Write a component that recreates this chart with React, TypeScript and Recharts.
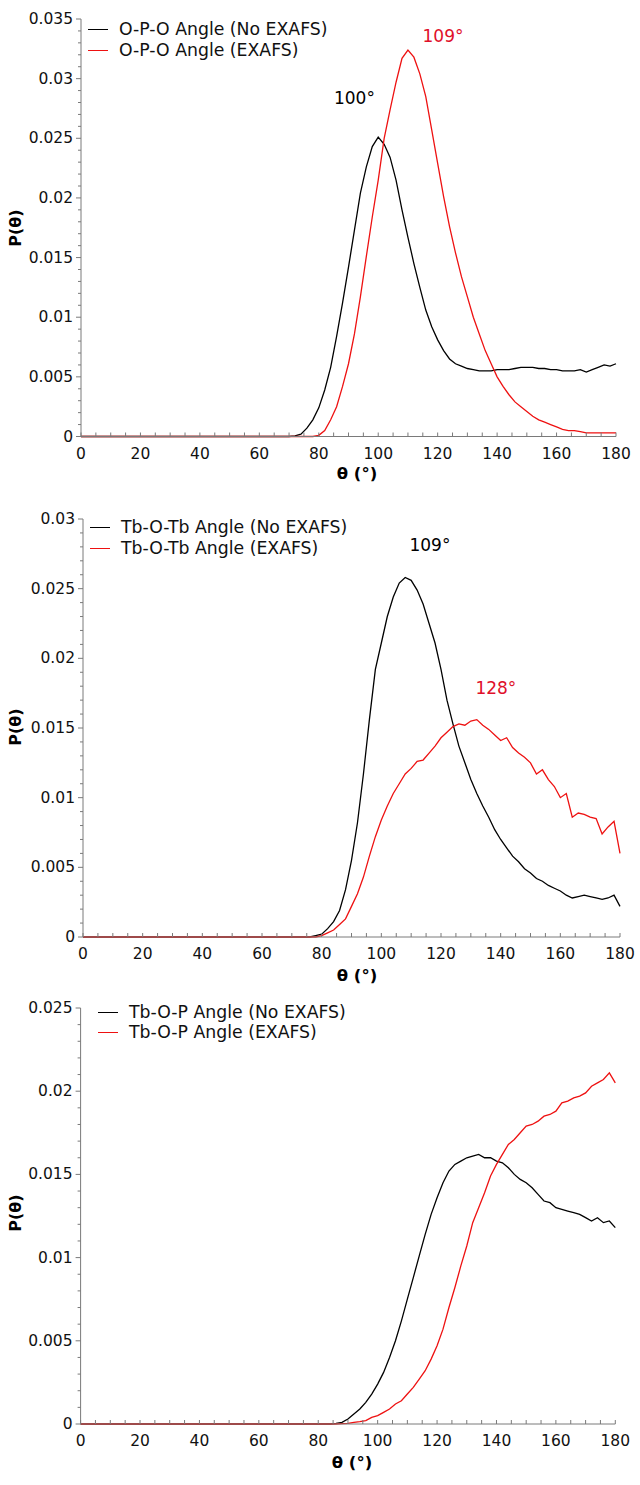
import React from "react";
import { LineChart, Line, XAxis, YAxis, ReferenceDot } from "recharts";

// angle grid in degrees
const angles = [
  0, 2, 4, 6, 8, 10, 12, 14, 16, 18, 20, 22, 24, 26, 28, 30, 32, 34, 36, 38,
  40, 42, 44, 46, 48, 50, 52, 54, 56, 58, 60, 62, 64, 66, 68, 70, 72, 74, 76, 78,
  80, 82, 84, 86, 88, 90, 92, 94, 96, 98, 100, 102, 104, 106, 108, 110, 112, 114, 116, 118,
  120, 122, 124, 126, 128, 130, 132, 134, 136, 138, 140, 142, 144, 146, 148, 150, 152, 154, 156, 158,
  160, 162, 164, 166, 168, 170, 172, 174, 176, 178, 180,
];

// O-P-O
const opoNoExafs = [
  0, 0, 0, 0, 0, 0, 0, 0, 0, 0, 0, 0, 0, 0, 0, 0, 0, 0, 0, 0,
  0, 0, 0, 0, 0, 0, 0, 0, 0, 0, 0, 0, 0, 0, 0, 0, 0.00005, 0.0002, 0.0007, 0.0014,
  0.0024, 0.0039, 0.0058, 0.0084, 0.0112, 0.0142, 0.0173, 0.0204, 0.0226, 0.0243, 0.0251, 0.0245, 0.0234, 0.0215, 0.019, 0.0167, 0.0145, 0.0125, 0.0106, 0.0092,
  0.0081, 0.0072, 0.0065, 0.0061, 0.0059, 0.0057, 0.0056, 0.0055, 0.0055, 0.0055, 0.0056, 0.0056, 0.0056, 0.0057, 0.0058, 0.0058, 0.0058, 0.0057, 0.0057, 0.0056,
  0.0056, 0.0055, 0.0055, 0.0055, 0.0056, 0.0054, 0.0056, 0.0058, 0.006, 0.0059, 0.0061,
];
const opoExafs = [
  0, 0, 0, 0, 0, 0, 0, 0, 0, 0, 0, 0, 0, 0, 0, 0, 0, 0, 0, 0,
  0, 0, 0, 0, 0, 0, 0, 0, 0, 0, 0, 0, 0, 0, 0, 0, 0, 0, 0, 0,
  0.0001, 0.0005, 0.0014, 0.0025, 0.0042, 0.0061, 0.0086, 0.0117, 0.0151, 0.0184, 0.0215, 0.025, 0.0274, 0.0297, 0.0317, 0.0324, 0.0318, 0.0304, 0.0285, 0.0257,
  0.0229, 0.0201, 0.0176, 0.0154, 0.0134, 0.0117, 0.01, 0.0086, 0.0072, 0.0061, 0.005, 0.0042, 0.0035, 0.0029, 0.0025, 0.0021, 0.0017, 0.0014, 0.0012, 0.001,
  0.0008, 0.0006, 0.0005, 0.0005, 0.0004, 0.0003, 0.0003, 0.0003, 0.0003, 0.0003, 0.0003,
];

// Tb-O-Tb
const tbotbNoExafs = [
  0, 0, 0, 0, 0, 0, 0, 0, 0, 0, 0, 0, 0, 0, 0, 0, 0, 0, 0, 0,
  0, 0, 0, 0, 0, 0, 0, 0, 0, 0, 0, 0, 0, 0, 0, 0, 0, 0, 0, 0.0001,
  0.0002, 0.0006, 0.0011, 0.0019, 0.0034, 0.0055, 0.0082, 0.0117, 0.0156, 0.0192, 0.0211, 0.023, 0.0244, 0.0254, 0.0258, 0.0256, 0.0249, 0.0239, 0.0225, 0.0211,
  0.0192, 0.017, 0.0153, 0.0137, 0.0125, 0.0113, 0.0103, 0.0094, 0.0086, 0.0077, 0.007, 0.0064, 0.0058, 0.0054, 0.0049, 0.0046, 0.0042, 0.004, 0.0037, 0.0035,
  0.0033, 0.003, 0.0028, 0.0029, 0.003, 0.0029, 0.0028, 0.0027, 0.0028, 0.003, 0.0022,
];
const tbotbExafs = [
  0, 0, 0, 0, 0, 0, 0, 0, 0, 0, 0, 0, 0, 0, 0, 0, 0, 0, 0, 0,
  0, 0, 0, 0, 0, 0, 0, 0, 0, 0, 0, 0, 0, 0, 0, 0, 0, 0, 0, 0,
  0.0001, 0.0003, 0.0005, 0.0009, 0.0013, 0.0022, 0.0031, 0.0043, 0.0058, 0.0072, 0.0084, 0.0094, 0.0103, 0.011, 0.0117, 0.0121, 0.0126, 0.0127, 0.0132, 0.0137,
  0.0143, 0.0147, 0.0151, 0.0153, 0.0152, 0.0155, 0.0156, 0.0152, 0.0149, 0.0145, 0.0141, 0.0143, 0.0136, 0.0132, 0.0129, 0.0125, 0.0117, 0.012, 0.0113, 0.0108,
  0.01, 0.0103, 0.0086, 0.0089, 0.0088, 0.0086, 0.0085, 0.0074, 0.0079, 0.0083, 0.006,
];

// Tb-O-P
const tbopNoExafs = [
  0, 0, 0, 0, 0, 0, 0, 0, 0, 0, 0, 0, 0, 0, 0, 0, 0, 0, 0, 0,
  0, 0, 0, 0, 0, 0, 0, 0, 0, 0, 0, 0, 0, 0, 0, 0, 0, 0, 0, 0,
  0, 0, 0, 0.00004, 0.0001, 0.0003, 0.0006, 0.0009, 0.0013, 0.0018, 0.0024, 0.0031, 0.004, 0.005, 0.0062, 0.0075, 0.0088, 0.0101, 0.0114, 0.0126,
  0.0136, 0.0145, 0.0152, 0.0156, 0.0158, 0.016, 0.0161, 0.0162, 0.016, 0.016, 0.0158, 0.0157, 0.0154, 0.015, 0.0147, 0.0145, 0.0142, 0.0138, 0.0134, 0.0133,
  0.013, 0.0129, 0.0128, 0.0127, 0.0126, 0.0124, 0.0122, 0.0124, 0.0121, 0.0122, 0.0118,
];
const tbopExafs = [
  0, 0, 0, 0, 0, 0, 0, 0, 0, 0, 0, 0, 0, 0, 0, 0, 0, 0, 0, 0,
  0, 0, 0, 0, 0, 0, 0, 0, 0, 0, 0, 0, 0, 0, 0, 0, 0, 0, 0, 0,
  0, 0, 0, 0, 0.00002, 0.00004, 0.0001, 0.00014, 0.0002, 0.0004, 0.0005, 0.0007, 0.0009, 0.0012, 0.0014, 0.0018, 0.0022, 0.0027, 0.0032, 0.0039,
  0.0047, 0.0057, 0.007, 0.0082, 0.0095, 0.0107, 0.0121, 0.013, 0.0139, 0.0149, 0.0156, 0.0162, 0.0168, 0.0171, 0.0175, 0.0179, 0.018, 0.0182, 0.0185, 0.0186,
  0.0188, 0.0193, 0.0194, 0.0196, 0.0197, 0.0199, 0.0203, 0.0205, 0.0207, 0.0211, 0.0205,
];

const xLabels = ["0", "20", "40", "60", "80", "100", "120", "140", "160", "180"];
const opoYLabels = ["0", "0.005", "0.01", "0.015", "0.02", "0.025", "0.03", "0.035"];
const tbotbYLabels = ["0", "0.005", "0.01", "0.015", "0.02", "0.025", "0.03"];
const tbopYLabels = ["0", "0.005", "0.01", "0.015", "0.02", "0.025"];

const BLACK = "#000000";
const RED = "#ee1111";
const NOTE_RED = "#e0102a";
const AXIS = "#7a7a7a";
const FONT = "'DejaVu Sans', Verdana, sans-serif";

const xTicks = Array.from({ length: 37 }, (_, i) => i * 5);

type Note = { angle: number; value: number; text: string; color: string };

type PanelProps = {
  top: number;
  plot: { left: number; right: number; top: number; bottom: number };
  yLabels: string[];
  names: string[];
  noExafs: number[];
  exafs: number[];
  notes: Note[];
  legend: { x: number; y: number; gap: number };
  yTitleY: number;
  xTitle: { x: number; y: number };
};

const H = 495;

function Panel({ top, plot, yLabels, names, noExafs, exafs, notes, legend, yTitleY, xTitle }: PanelProps) {
  const rows = angles.map((a, i) => ({ angle: a, noExafs: noExafs[i], exafs: exafs[i] }));
  const majors = yLabels.map((l) => parseFloat(l));
  const yMax = majors[majors.length - 1];
  const yTicks = Array.from({ length: Math.round(yMax / 0.001) + 1 }, (_, i) => i * 0.001);

  const XTick = (p: any) => {
    const v = p.payload.value;
    const lab = xLabels.find((l) => Number(l) === v);
    return (
      <g>
        <line x1={p.x} x2={p.x} y1={p.y} y2={p.y - 4} stroke={AXIS} />
        {lab !== undefined && (
          <text x={p.x} y={p.y + 22} textAnchor="middle" fontSize={15.5} fill="#111" fontFamily={FONT}>
            {lab}
          </text>
        )}
      </g>
    );
  };

  const YTick = (p: any) => {
    const v = p.payload.value;
    const idx = majors.findIndex((m) => Math.abs(m - v) < 1e-9);
    return (
      <g>
        <line x1={p.x} x2={p.x - (idx >= 0 ? 5 : 3)} y1={p.y} y2={p.y} stroke={AXIS} />
        {idx >= 0 && (
          <text x={p.x - 8} y={p.y + 5} textAnchor="end" fontSize={15.5} fill="#111" fontFamily={FONT}>
            {yLabels[idx]}
          </text>
        )}
      </g>
    );
  };

  return (
    <div style={{ position: "absolute", left: 0, top, width: 640, height: H }}>
      <LineChart
        width={640}
        height={H}
        data={rows}
        margin={{ top: plot.top - top, right: 640 - plot.right, bottom: 0, left: 0 }}
      >
        <XAxis
          dataKey="angle"
          type="number"
          domain={[0, 180]}
          ticks={xTicks}
          interval={0}
          height={H - (plot.bottom - top)}
          tickSize={0}
          tickMargin={0}
          tickLine={false}
          axisLine={{ stroke: AXIS }}
          tick={XTick}
        />
        <YAxis
          type="number"
          domain={[0, yMax]}
          ticks={yTicks}
          interval={0}
          width={plot.left}
          tickSize={0}
          tickMargin={0}
          tickLine={false}
          axisLine={{ stroke: AXIS }}
          tick={YTick}
        />
        <Line dataKey="noExafs" stroke={BLACK} strokeWidth={1.3} dot={false} isAnimationActive={false} />
        <Line dataKey="exafs" stroke={RED} strokeWidth={1.3} dot={false} isAnimationActive={false} />
        {notes.map((n) => (
          <ReferenceDot
            key={n.text + n.angle}
            x={n.angle}
            y={n.value}
            r={0}
            label={{
              content: (lp: any) => (
                <text
                  x={lp.viewBox.x + (lp.viewBox.width || 0) / 2}
                  y={lp.viewBox.y + (lp.viewBox.height || 0) / 2 + 6}
                  textAnchor="middle"
                  fontSize={17}
                  fill={n.color}
                  fontFamily={FONT}
                >
                  {n.text}
                </text>
              ),
            }}
          />
        ))}
      </LineChart>
      {names.map((name, i) => (
        <div
          key={name}
          style={{
            position: "absolute",
            left: legend.x,
            top: legend.y - top + i * legend.gap - 11,
            height: 22,
            display: "flex",
            alignItems: "center",
            fontFamily: FONT,
            fontSize: 17.3,
            color: "#111",
            whiteSpace: "nowrap",
          }}
        >
          <span style={{ display: "inline-block", width: 20, height: 0, borderTop: `1.3px solid ${i === 0 ? BLACK : RED}`, marginRight: 11 }} />
          {name}
        </div>
      ))}
      <div
        style={{
          position: "absolute",
          left: 15,
          top: yTitleY - top,
          transform: "translate(-50%, -50%) rotate(-90deg)",
          fontFamily: FONT,
          fontWeight: "bold",
          fontSize: 16,
          whiteSpace: "nowrap",
        }}
      >
        P(θ)
      </div>
      <div
        style={{
          position: "absolute",
          left: xTitle.x,
          top: xTitle.y - top,
          transform: "translate(-50%, -50%)",
          fontFamily: FONT,
          fontWeight: "bold",
          fontSize: 16.5,
          whiteSpace: "nowrap",
        }}
      >
        θ (°)
      </div>
    </div>
  );
}

export default function App() {
  return (
    <div style={{ position: "absolute", left: 0, top: 0, width: 640, height: 1485, background: "#fff" }}>
      <Panel
        top={0}
        plot={{ left: 81, right: 616, top: 19, bottom: 436.5 }}
        yLabels={opoYLabels}
        names={["O-P-O Angle (No EXAFS)", "O-P-O Angle (EXAFS)"]}
        noExafs={opoNoExafs}
        exafs={opoExafs}
        notes={[
          { angle: 92, value: 0.0284, text: "100°", color: BLACK },
          { angle: 121.8, value: 0.0336, text: "109°", color: NOTE_RED },
        ]}
        legend={{ x: 88, y: 29, gap: 21 }}
        yTitleY={228}
        xTitle={{ x: 357, y: 473 }}
      />
      <Panel
        top={495}
        plot={{ left: 83, right: 620, top: 519, bottom: 937 }}
        yLabels={tbotbYLabels}
        names={["Tb-O-Tb Angle (No EXAFS)", "Tb-O-Tb Angle (EXAFS)"]}
        noExafs={tbotbNoExafs}
        exafs={tbotbExafs}
        notes={[
          { angle: 116.3, value: 0.0281, text: "109°", color: BLACK },
          { angle: 138.4, value: 0.0179, text: "128°", color: NOTE_RED },
        ]}
        legend={{ x: 90, y: 527, gap: 21 }}
        yTitleY={727}
        xTitle={{ x: 357, y: 975 }}
      />
      <Panel
        top={990}
        plot={{ left: 80.6, right: 615.3, top: 1008, bottom: 1424 }}
        yLabels={tbopYLabels}
        names={["Tb-O-P Angle (No EXAFS)", "Tb-O-P Angle (EXAFS)"]}
        noExafs={tbopNoExafs}
        exafs={tbopExafs}
        notes={[]}
        legend={{ x: 98, y: 1012, gap: 20 }}
        yTitleY={1213}
        xTitle={{ x: 352, y: 1462 }}
      />
    </div>
  );
}
